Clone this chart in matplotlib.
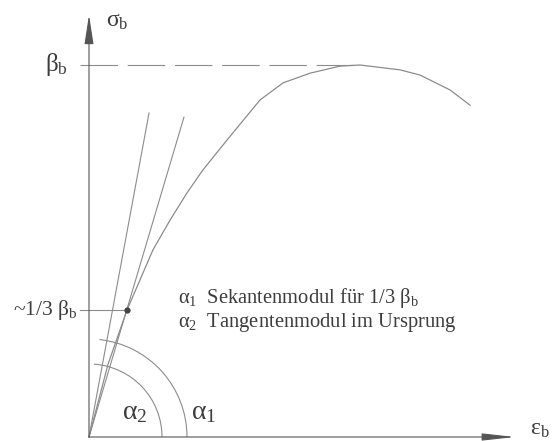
import matplotlib
matplotlib.use("Agg")
from matplotlib import pyplot as plt
from matplotlib.patches import Arc
import numpy as np

plt.rcParams["font.family"] = ["Liberation Serif", "DejaVu Serif"]
plt.rcParams["mathtext.fontset"] = "custom"
plt.rcParams["mathtext.rm"] = "Liberation Serif"
plt.rcParams["mathtext.it"] = "Liberation Serif:italic"
plt.rcParams["lines.scale_dashes"] = False

# stress-strain curve (strain in permille, stress relative to beta_b)
epsCurve = [0.0, 0.14, 0.28, 0.376, 0.472, 0.598, 0.723, 0.841, 1.018, 1.262, 1.432, 1.631, 1.852,
            2.0, 2.295, 2.443, 2.664, 2.812]
sigCurve = [0.0, 0.195, 0.341, 0.422, 0.503, 0.583, 0.656, 0.718, 0.798, 0.906, 0.952, 0.978, 0.997,
            1.0, 0.987, 0.973, 0.933, 0.892]

# point at ~1/3 beta_b and end points of the two moduli lines
thirdPoint = (0.28, 0.341)
secantEnd = (0.701, 0.860)
tangentEnd = (0.443, 0.871)
peak = (2.0, 1.0)

# arc radii in pixels
arcAlpha1 = 98
arcAlpha2 = 73

lineColor = "#8c8c8c"
textColor = "#3c3c3c"

# pixel scale of the drawing
pxPerEps = 135.5
pxPerSig = 372.0
x0, y0 = 89, 437

fig = plt.figure(figsize=(5.56, 4.41), dpi=100)
ax = fig.add_axes([0, 0, 1, 1])
ax.set_xlim(-x0 / pxPerEps, (556 - x0) / pxPerEps)
ax.set_ylim((y0 - 441) / pxPerSig, y0 / pxPerSig)
ax.axis("off")

# axes with arrows
ax.annotate("", xy=(0, (y0 - 15) / pxPerSig), xytext=(0, 0),
            arrowprops=dict(arrowstyle="-|>,head_length=1.8,head_width=0.28", mutation_scale=10,
                            color=lineColor, lw=0.8, fc="#555555", ec="#555555", shrinkA=0, shrinkB=0))
ax.annotate("", xy=((515 - x0) / pxPerEps, 0), xytext=(0, 0),
            arrowprops=dict(arrowstyle="-|>,head_length=2.0,head_width=0.22", mutation_scale=10,
                            color=lineColor, lw=0.8, fc="#555555", ec="#555555", shrinkA=0, shrinkB=0))

# curve
ax.plot(epsCurve, sigCurve, color=lineColor, lw=0.9)

# beta_b dashed level
ax.plot([-9 / pxPerEps, peak[0]], [peak[1], peak[1]], color=lineColor, lw=0.8,
        linestyle=(0, (27, 7)))

# secant and tangent lines
ax.plot([0, secantEnd[0]], [0, secantEnd[1]], color=lineColor, lw=0.8)
ax.plot([0, tangentEnd[0]], [0, tangentEnd[1]], color=lineColor, lw=0.8)

# 1/3 beta_b marker
ax.plot([-9 / pxPerEps, thirdPoint[0]], [thirdPoint[1], thirdPoint[1]], color=lineColor, lw=0.8)
ax.plot(thirdPoint[0], thirdPoint[1], "o", color="#444444", ms=3.5)

# angle arcs (circles in pixel space)
angSec = np.degrees(np.arctan2(secantEnd[1] * pxPerSig, secantEnd[0] * pxPerEps))
angTan = np.degrees(np.arctan2(tangentEnd[1] * pxPerSig, tangentEnd[0] * pxPerEps))
ax.add_patch(Arc((0, 0), 2 * arcAlpha1 / pxPerEps, 2 * arcAlpha1 / pxPerSig,
                 theta1=0, theta2=angSec, color=lineColor, lw=0.8))
ax.add_patch(Arc((0, 0), 2 * arcAlpha2 / pxPerEps, 2 * arcAlpha2 / pxPerSig,
                 theta1=0, theta2=angTan, color=lineColor, lw=0.8))

# labels
ax.text(0.125, 1.116, r"$\mathrm{σ_b}$", fontsize=17, color=textColor, ha="left", va="center")
ax.text(-0.155, 1.0, r"$\mathrm{β_b}$", fontsize=18, color=textColor, ha="right", va="center")
ax.text(3.255, 0.019, r"$\mathrm{ε_b}$", fontsize=17, color=textColor, ha="left", va="center")
ax.text(-0.081, 0.341, r"~1/3 $\mathrm{β_b}$", fontsize=15.5, color=textColor, ha="right", va="center")
ax.text(0.336, 0.065, r"$\mathrm{α_2}$", fontsize=20, color=textColor, ha="center", va="center")
ax.text(0.849, 0.065, r"$\mathrm{α_1}$", fontsize=20, color=textColor, ha="center", va="center")

ax.text(0.657, 0.374, r"$\mathrm{α_1}$  Sekantenmodul für 1/3 $\mathrm{β_b}$", fontsize=14.8,
        color=textColor, ha="left", va="center")
ax.text(0.657, 0.307, r"$\mathrm{α_2}$  Tangentenmodul im Ursprung", fontsize=14.8,
        color=textColor, ha="left", va="center")

fig.savefig("out.png", dpi=100, facecolor="white")
